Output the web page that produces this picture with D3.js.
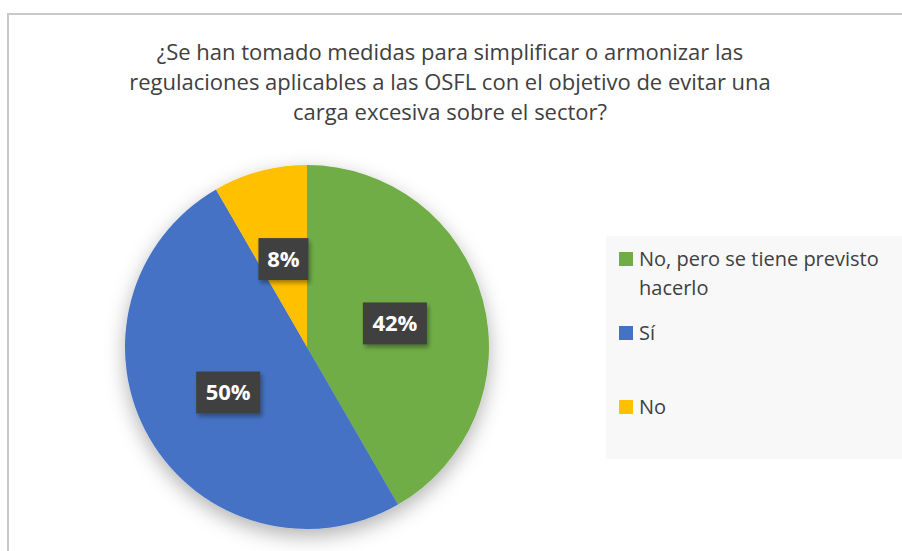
<!DOCTYPE html>
<html>
<head>
<meta charset="utf-8">
<script src="https://cdn.jsdelivr.net/npm/d3@7"></script>
<style>
  body { margin: 0; background: #fff; }
  svg { display: block; }
</style>
</head>
<body>
<div id="container"></div>
<script>
// chart data
var titleLines = [
    "¿Se han tomado medidas para simplificar o armonizar las",
    "regulaciones aplicables a las OSFL con el objetivo de evitar una",
    "carga excesiva sobre el sector?"
];
var categories = ["No, pero se tiene previsto hacerlo", "Sí", "No"];
var values = [5, 6, 1];
var percentLabels = ["42%", "50%", "8%"];
var colors = ["#70AD47", "#4472C4", "#FFC000"];

var svgWidth = 902, svgHeight = 551;
var font = "'Open Sans', 'Noto Sans', sans-serif";

var svg = d3.select("div#container")
    .append("svg")
    .attr("width", svgWidth)
    .attr("height", svgHeight);

var defs = svg.append("defs");
var pieShadow = defs.append("filter")
    .attr("id", "pieShadow")
    .attr("x", "-30%").attr("y", "-30%")
    .attr("width", "160%").attr("height", "160%");
pieShadow.append("feDropShadow")
    .attr("dx", 0).attr("dy", 7)
    .attr("stdDeviation", 10)
    .attr("flood-color", "#000")
    .attr("flood-opacity", 0.3);

var boxShadow = defs.append("filter")
    .attr("id", "boxShadow")
    .attr("x", "-30%").attr("y", "-30%")
    .attr("width", "160%").attr("height", "160%");
boxShadow.append("feDropShadow")
    .attr("dx", 2).attr("dy", 3)
    .attr("stdDeviation", 2)
    .attr("flood-color", "#000")
    .attr("flood-opacity", 0.35);

// chart frame (runs off the right and bottom edge)
svg.append("rect")
    .attr("x", 8).attr("y", 14)
    .attr("width", 910).attr("height", 560)
    .attr("fill", "#fff")
    .attr("stroke", "#c9c9c9")
    .attr("stroke-width", 2);

// title
svg.append("g")
    .selectAll("text")
    .data(titleLines)
    .enter()
    .append("text")
    .attr("x", 450)
    .attr("y", function (d, i) { return 60 + i * 30; })
    .attr("text-anchor", "middle")
    .style("font-family", font)
    .style("font-size", "22px")
    .style("fill", "#404040")
    .text(function (d) { return d; });

// pie
var cx = 307, cy = 347, radius = 182;
var pie = d3.pie().sort(null).value(function (d) { return d; });
var arc = d3.arc().innerRadius(0).outerRadius(radius);
var arcs = pie(values);

var g = svg.append("g")
    .attr("transform", "translate(" + cx + "," + cy + ")");

g.append("g")
    .attr("filter", "url(#pieShadow)")
    .selectAll("path")
    .data(arcs)
    .enter()
    .append("path")
    .attr("d", arc)
    .attr("fill", function (d, i) { return colors[i]; });

// data labels in dark boxes
var labels = g.selectAll(".lbl")
    .data(arcs)
    .enter()
    .append("g")
    .attr("class", "lbl")
    .attr("transform", function (d) { return "translate(" + arc.centroid(d) + ")"; });

labels.append("rect")
    .attr("x", function (d, i) { return i == 2 ? -25 : -32; })
    .attr("y", -21)
    .attr("width", function (d, i) { return i == 2 ? 50 : 64; })
    .attr("height", 42)
    .attr("fill", "#404040")
    .attr("filter", "url(#boxShadow)");

labels.append("text")
    .attr("text-anchor", "middle")
    .attr("dy", "0.36em")
    .style("font-family", font)
    .style("font-size", "22px")
    .style("font-weight", "bold")
    .style("fill", "#fff")
    .text(function (d, i) { return percentLabels[i]; });

// legend
svg.append("rect")
    .attr("x", 606).attr("y", 236)
    .attr("width", 300).attr("height", 223)
    .attr("fill", "#f8f8f8");

var legendY = [252, 326, 400];
var legendLines = [["No, pero se tiene previsto", "hacerlo"], ["Sí"], ["No"]];

var legend = svg.selectAll(".legendItem")
    .data(categories)
    .enter()
    .append("g")
    .attr("class", "legendItem")
    .attr("transform", function (d, i) { return "translate(619," + legendY[i] + ")"; });

legend.append("rect")
    .attr("width", 14).attr("height", 14)
    .attr("fill", function (d, i) { return colors[i]; });

legend.append("text")
    .attr("x", 20)
    .attr("y", 14)
    .style("font-family", font)
    .style("font-size", "20px")
    .style("fill", "#404040")
    .selectAll("tspan")
    .data(function (d, i) { return legendLines[i]; })
    .enter()
    .append("tspan")
    .attr("x", 20)
    .attr("dy", function (d, i) { return i == 0 ? 0 : 29; })
    .text(function (d) { return d; });
</script>
</body>
</html>
